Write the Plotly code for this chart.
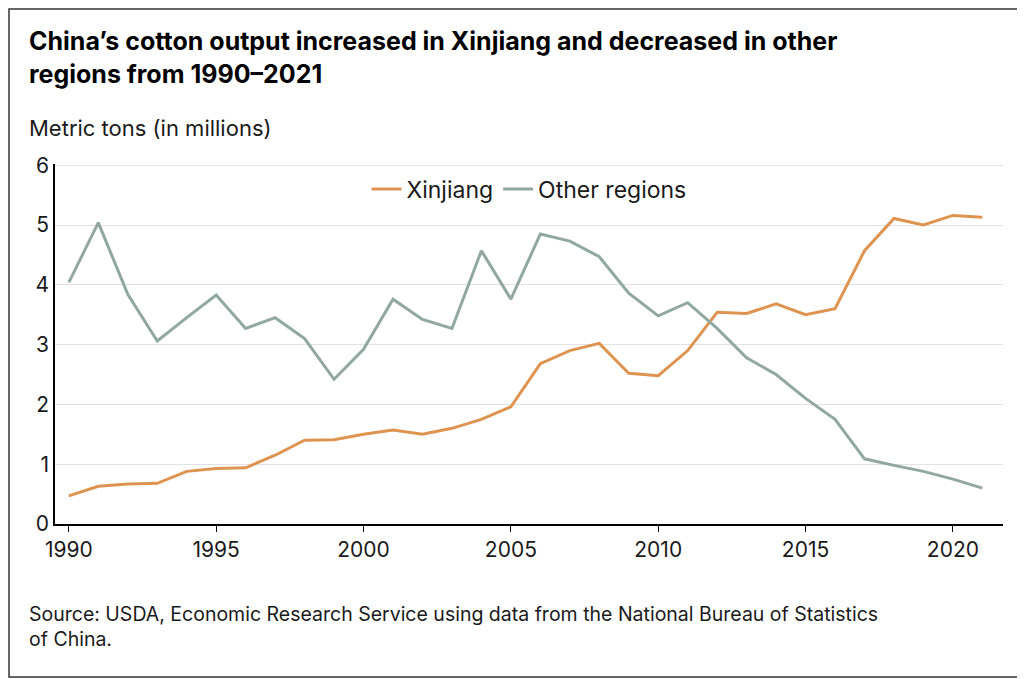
import plotly.graph_objects as go

years = list(range(1990, 2022))
xinjiang = [0.47, 0.63, 0.67, 0.68, 0.88, 0.93, 0.94, 1.15, 1.40, 1.41, 1.50, 1.57, 1.50, 1.60, 1.75, 1.96,
            2.68, 2.90, 3.02, 2.52, 2.48, 2.90, 3.54, 3.52, 3.68, 3.50, 3.60, 4.57, 5.11, 5.00, 5.16, 5.13]
other_regions = [4.04, 5.04, 3.84, 3.06, 3.45, 3.83, 3.27, 3.45, 3.10, 2.42, 2.92, 3.76, 3.42, 3.27, 4.57, 3.76,
                 4.85, 4.73, 4.47, 3.86, 3.48, 3.70, 3.27, 2.78, 2.50, 2.10, 1.75, 1.09, 0.98, 0.88, 0.75, 0.60]
x_ticks = [1990, 1995, 2000, 2005, 2010, 2015, 2020]

font = "Inter, Roboto, sans-serif"
W, H, L, R, T, B = 1017, 671, 47, 22, 156, 155
pw, ph = W - L - R, H - T - B

fig = go.Figure()
fig.add_trace(go.Scatter(x=years, y=xinjiang, mode='lines', name='Xinjiang',
                         line=dict(color="#DE9450", width=3)))
fig.add_trace(go.Scatter(x=years, y=other_regions, mode='lines', name='Other regions',
                         line=dict(color="#90A89F", width=3)))

fig.update_layout(
    width=W, height=H,
    paper_bgcolor='white', plot_bgcolor='white',
    margin=dict(l=L, r=R, t=T, b=B),
    font=dict(family=font, color='#1a1a1a', size=21),
    legend=dict(orientation='h', x=0.5, xanchor='center', y=0.99, yanchor='top',
                font=dict(size=23), bgcolor='rgba(0,0,0,0)'),
    xaxis=dict(range=[1989.53, 2021.7], tickvals=x_ticks, showline=True, linecolor='black', linewidth=1.5,
               ticks='outside', ticklen=6, tickcolor='black', showgrid=False, tickfont=dict(size=21)),
    yaxis=dict(range=[0, 6.02], dtick=1, showline=True, linecolor='black', linewidth=1.5,
               gridcolor='#e3e3e3', zeroline=False, tickfont=dict(size=21)),
    shapes=[dict(type='rect', xref='paper', yref='paper',
                 x0=(1 - L) / pw, x1=(W - L - 2) / pw, y0=-(B - 2) / ph, y1=1 + (T - 1) / ph,
                 line=dict(color='#333', width=1.5))],
)

fig.add_annotation(text="<b>China’s cotton output increased in Xinjiang and decreased in other<br>regions from 1990–2021</b>",
                   xref='paper', yref='paper', x=-28 / pw, y=1 + 140 / ph, xanchor='left', yanchor='top',
                   align='left', showarrow=False, font=dict(size=25, color='black'))
fig.add_annotation(text="Metric tons (in millions)", xref='paper', yref='paper', x=-28 / pw, y=1 + 36 / ph,
                   xanchor='left', yanchor='middle', showarrow=False, font=dict(size=22))
fig.add_annotation(text="Source: USDA, Economic Research Service using data from the National Bureau of Statistics<br>of China.",
                   xref='paper', yref='paper', x=-28 / pw, y=-76 / ph, xanchor='left', yanchor='top',
                   align='left', showarrow=False, font=dict(size=19.5))

fig.write_html("out.html")
